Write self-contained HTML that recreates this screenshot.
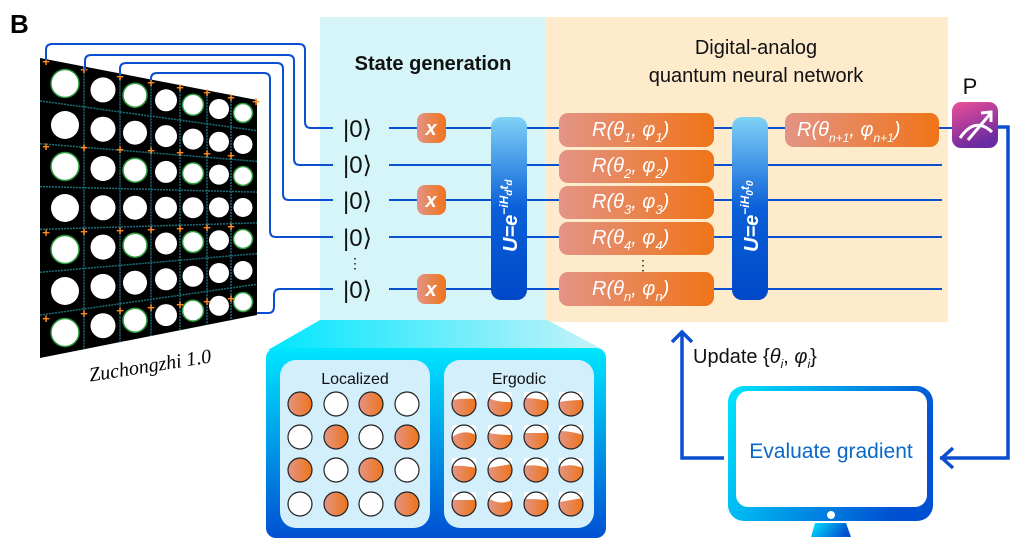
<!DOCTYPE html>
<html><head><meta charset="utf-8"><style>
html,body{margin:0;padding:0;background:#fff;width:1030px;height:554px;overflow:hidden}
svg{display:block}
text{font-family:"Liberation Sans",sans-serif}
text.serif{font-family:"Liberation Serif",serif}
</style></head><body>
<svg width="1030" height="554" viewBox="0 0 1030 554" xmlns="http://www.w3.org/2000/svg">
<defs>
<linearGradient id="og" x1="0" x2="1" y1="0" y2="0"><stop offset="0" stop-color="#e39486"/><stop offset="1" stop-color="#ef7418"/></linearGradient>
<linearGradient id="ub" x1="0" x2="0" y1="0" y2="1"><stop offset="0" stop-color="#80d2f5"/><stop offset="0.5" stop-color="#0a5fd8"/><stop offset="1" stop-color="#0048c8"/></linearGradient>
<linearGradient id="pk" x1="0" x2="0.4" y1="0" y2="1"><stop offset="0" stop-color="#ef4f97"/><stop offset="1" stop-color="#6a2aa0"/></linearGradient>
<linearGradient id="bp" x1="0" x2="0" y1="0" y2="1"><stop offset="0" stop-color="#00e6ff"/><stop offset="1" stop-color="#0050d2"/></linearGradient>
<linearGradient id="bt" x1="0" x2="1" y1="0" y2="0"><stop offset="0" stop-color="#00e6ff"/><stop offset="1" stop-color="#c8f3f8"/></linearGradient>
<linearGradient id="mon" x1="0" x2="1" y1="0" y2="0.3"><stop offset="0" stop-color="#00e6ff"/><stop offset="1" stop-color="#0050d2"/></linearGradient>
</defs>
<text x="10" y="33" font-size="26" font-weight="bold">B</text>

<rect x="320" y="17" width="226" height="305" fill="#d6f5f8"/>
<rect x="546" y="17" width="402" height="305" fill="#fdebcc"/>
<text x="433" y="70" font-size="20" text-anchor="middle" font-weight="bold" fill="#111">State generation</text>
<text x="756" y="54" font-size="20" text-anchor="middle" fill="#111">Digital-analog</text>
<text x="756" y="82" font-size="20" text-anchor="middle" fill="#111">quantum neural network</text>

<polygon points="40,58 257,100 257,315 40,358" fill="#000"/>
<g stroke="#1c6e7a" stroke-width="1.5" stroke-dasharray="2 1">
<line x1="40" y1="100.9" x2="257" y2="130.7"/><line x1="40" y1="143.7" x2="257" y2="161.4"/>
<line x1="40" y1="186.6" x2="257" y2="192.1"/><line x1="40" y1="229.4" x2="257" y2="222.9"/>
<line x1="40" y1="272.3" x2="257" y2="253.6"/><line x1="40" y1="315.1" x2="257" y2="284.3"/>
<line x1="84" y1="66.5" x2="84" y2="349.3"/><line x1="120" y1="73.5" x2="120" y2="342.2"/>
<line x1="151" y1="79.5" x2="151" y2="336"/><line x1="180" y1="85.1" x2="180" y2="330.3"/>
<line x1="207" y1="90.3" x2="207" y2="324.9"/><line x1="231" y1="95" x2="231" y2="320.2"/>
</g>
<g fill="#fff" stroke="#2a9a3a" stroke-width="0">
<circle cx="65" cy="83.5" r="14" stroke-width="1.5"/><circle cx="65" cy="125" r="14"/><circle cx="65" cy="166.5" r="14" stroke-width="1.5"/><circle cx="65" cy="208" r="14"/><circle cx="65" cy="249.5" r="14" stroke-width="1.5"/><circle cx="65" cy="291" r="14"/><circle cx="65" cy="332.5" r="14" stroke-width="1.5"/>
<circle cx="103" cy="89.9" r="12.5"/><circle cx="103" cy="129.2" r="12.5"/><circle cx="103" cy="168.5" r="12.5"/><circle cx="103" cy="207.8" r="12.5"/><circle cx="103" cy="247.1" r="12.5"/><circle cx="103" cy="286.4" r="12.5"/><circle cx="103" cy="325.7" r="12.5"/>
<circle cx="135" cy="95.2" r="12" stroke-width="1.5"/><circle cx="135" cy="132.7" r="12"/><circle cx="135" cy="170.2" r="12" stroke-width="1.5"/><circle cx="135" cy="207.7" r="12"/><circle cx="135" cy="245.2" r="12" stroke-width="1.5"/><circle cx="135" cy="282.7" r="12"/><circle cx="135" cy="320.2" r="12" stroke-width="1.5"/>
<circle cx="166" cy="100.3" r="11"/><circle cx="166" cy="136.1" r="11"/><circle cx="166" cy="171.9" r="11"/><circle cx="166" cy="207.7" r="11"/><circle cx="166" cy="243.5" r="11"/><circle cx="166" cy="279.3" r="11"/><circle cx="166" cy="315.1" r="11"/>
<circle cx="193" cy="104.8" r="10.5" stroke-width="1.5"/><circle cx="193" cy="139.1" r="10.5"/><circle cx="193" cy="173.4" r="10.5" stroke-width="1.5"/><circle cx="193" cy="207.7" r="10.5"/><circle cx="193" cy="242" r="10.5" stroke-width="1.5"/><circle cx="193" cy="276.3" r="10.5"/><circle cx="193" cy="310.6" r="10.5" stroke-width="1.5"/>
<circle cx="219" cy="109" r="10"/><circle cx="219" cy="141.8" r="10"/><circle cx="219" cy="174.6" r="10"/><circle cx="219" cy="207.4" r="10"/><circle cx="219" cy="240.2" r="10"/><circle cx="219" cy="273" r="10"/><circle cx="219" cy="305.8" r="10"/>
<circle cx="243" cy="113" r="9.5" stroke-width="1.5"/><circle cx="243" cy="144.5" r="9.5"/><circle cx="243" cy="176" r="9.5" stroke-width="1.5"/><circle cx="243" cy="207.5" r="9.5"/><circle cx="243" cy="239" r="9.5" stroke-width="1.5"/><circle cx="243" cy="270.5" r="9.5"/><circle cx="243" cy="302" r="9.5" stroke-width="1.5"/>
</g>
<g fill="#ff8a20" font-size="13" font-weight="bold" text-anchor="middle">
<text x="46" y="66">+</text><text x="84" y="74">+</text><text x="120" y="81">+</text><text x="151" y="87">+</text><text x="180" y="92">+</text><text x="207" y="97">+</text><text x="231" y="102">+</text><text x="256" y="106">+</text>
<text x="46" y="151">+</text><text x="84" y="152">+</text><text x="120" y="154">+</text><text x="151" y="155">+</text><text x="180" y="157">+</text><text x="207" y="158">+</text><text x="231" y="160">+</text>
<text x="46" y="237">+</text><text x="84" y="236">+</text><text x="120" y="235">+</text><text x="151" y="234">+</text><text x="180" y="233">+</text><text x="207" y="232">+</text><text x="231" y="231">+</text>
<text x="46" y="323">+</text><text x="84" y="318">+</text><text x="120" y="315">+</text><text x="151" y="312">+</text><text x="180" y="309">+</text><text x="207" y="306">+</text><text x="231" y="303">+</text>
</g>
<text class="serif" x="150" y="372" font-size="20" font-style="italic" text-anchor="middle" transform="rotate(-9 150 365)">Zuchongzhi 1.0</text>

<g fill="none" stroke="#0a4fd0" stroke-width="2">
<path d="M46,60 V50 Q46,44 52,44 H299 Q305,44 305,50 V122 Q305,128 311,128 H333"/>
<path d="M85,70 V61 Q85,55 91,55 H288 Q294,55 294,61 V159 Q294,165 300,165 H333"/>
<path d="M120,76 V69 Q120,63 126,63 H277 Q283,63 283,69 V194 Q283,200 289,200 H333"/>
<path d="M151,80 V79 Q151,73 157,73 H264 Q270,73 270,79 V231 Q270,237 276,237 H333"/>
<path d="M257,313 H268 Q274,313 274,307 V295 Q274,289 280,289 H333"/>
</g>

<g font-size="24" fill="#111">
<text x="343" y="137">|0⟩</text><text x="343" y="173">|0⟩</text><text x="343" y="209">|0⟩</text><text x="343" y="246">|0⟩</text><text x="343" y="298">|0⟩</text>
</g>
<text x="355" y="268" font-size="14" text-anchor="middle" fill="#111">⋮</text>

<g stroke="#0a4fd0" stroke-width="2">
<line x1="389" y1="128" x2="952" y2="128"/>
<line x1="389" y1="165" x2="942" y2="165"/>
<line x1="389" y1="200" x2="942" y2="200"/>
<line x1="389" y1="237" x2="942" y2="237"/>
<line x1="389" y1="289" x2="942" y2="289"/>
</g>
<rect x="417" y="113" width="29" height="30" rx="8" fill="url(#og)"/>
<rect x="417" y="185" width="29" height="30" rx="8" fill="url(#og)"/>
<rect x="417" y="274" width="29" height="30" rx="8" fill="url(#og)"/>
<g fill="#fff" font-size="20" font-weight="bold" font-style="italic" text-anchor="middle">
<text x="431" y="135">x</text><text x="431" y="207">x</text><text x="431" y="296">x</text>
</g>
<rect x="491" y="117" width="36" height="183" rx="10" fill="url(#ub)"/>
<rect x="732" y="117" width="36" height="183" rx="10" fill="url(#ub)"/>
<text transform="translate(517 252) rotate(-90)" fill="#fff" font-size="20" font-weight="bold" font-style="italic">U=e<tspan font-size="12" dy="-9">−iH</tspan><tspan font-size="10" dy="4">d</tspan><tspan font-size="12" dy="-4">t</tspan><tspan font-size="10" dy="4">d</tspan></text>
<text transform="translate(758 252) rotate(-90)" fill="#fff" font-size="20" font-weight="bold" font-style="italic">U=e<tspan font-size="12" dy="-9">−iH</tspan><tspan font-size="10" dy="4">0</tspan><tspan font-size="12" dy="-4">t</tspan><tspan font-size="10" dy="4">0</tspan></text>
<g fill="url(#og)">
<rect x="559" y="113" width="155" height="34" rx="9"/>
<rect x="559" y="150" width="155" height="33" rx="9"/>
<rect x="559" y="186" width="155" height="33" rx="9"/>
<rect x="559" y="222" width="155" height="33" rx="9"/>
<rect x="559" y="272" width="155" height="34" rx="9"/>
<rect x="785" y="113" width="154" height="34" rx="9"/>
</g>
<g fill="#fff" font-size="20" font-style="italic">
<text x="592" y="136">R(θ<tspan font-size="13" dy="6">1</tspan><tspan dy="-6">, φ</tspan><tspan font-size="13" dy="6">1</tspan><tspan dy="-6">)</tspan></text>
<text x="592" y="172">R(θ<tspan font-size="13" dy="6">2</tspan><tspan dy="-6">, φ</tspan><tspan font-size="13" dy="6">2</tspan><tspan dy="-6">)</tspan></text>
<text x="592" y="208">R(θ<tspan font-size="13" dy="6">3</tspan><tspan dy="-6">, φ</tspan><tspan font-size="13" dy="6">3</tspan><tspan dy="-6">)</tspan></text>
<text x="592" y="244">R(θ<tspan font-size="13" dy="6">4</tspan><tspan dy="-6">, φ</tspan><tspan font-size="13" dy="6">4</tspan><tspan dy="-6">)</tspan></text>
<text x="592" y="295">R(θ<tspan font-size="13" dy="6">n</tspan><tspan dy="-6">, φ</tspan><tspan font-size="13" dy="6">n</tspan><tspan dy="-6">)</tspan></text>
<text x="797" y="136">R(θ<tspan font-size="12" dy="6">n+1</tspan><tspan dy="-6">, φ</tspan><tspan font-size="12" dy="6">n+1</tspan><tspan dy="-6">)</tspan></text>
</g>
<text x="643" y="270" font-size="14" text-anchor="middle" fill="#111">⋮</text>

<text x="970" y="94" font-size="22" text-anchor="middle" fill="#111">P</text>
<rect x="952" y="102" width="46" height="46" rx="9" fill="url(#pk)"/>
<path d="M960,138 Q975,116 992,132" fill="none" stroke="#fff" stroke-width="3"/>
<path d="M968,140 L990,114 M981,113 L991,112 L991,122" fill="none" stroke="#fff" stroke-width="3"/>
<g fill="none" stroke="#0a4fd0" stroke-width="3.5">
<path d="M998,127 H1008 V458 H940"/>
<path d="M953,448 L942,458 L953,468"/>
<path d="M724,458 H682 V331"/>
<path d="M672,342 L682,332 L692,342"/>
</g>
<text x="693" y="363" font-size="20" fill="#111">Update {<tspan font-style="italic">θ</tspan><tspan font-size="12" dy="5" font-style="italic">i</tspan><tspan dy="-5">, </tspan><tspan font-style="italic">φ</tspan><tspan font-size="12" dy="5" font-style="italic">i</tspan><tspan dy="-5">}</tspan></text>

<rect x="728" y="386" width="205" height="135" rx="16" fill="url(#mon)"/>
<rect x="736" y="391" width="191" height="116" rx="12" fill="#fff"/>
<circle cx="831" cy="515" r="4" fill="#fff"/>
<polygon points="815,523 846,523 851,537 811,537" fill="url(#mon)"/>
<text x="831" y="458" font-size="21" text-anchor="middle" fill="#0a68c8">Evaluate gradient</text>

<polygon points="320,320 547,320 604,350 268,350" fill="url(#bt)"/>
<rect x="266" y="348" width="340" height="190" rx="10" fill="url(#bp)"/>
<rect x="280" y="360" width="150" height="168" rx="16" fill="#d3effc"/>
<rect x="444" y="360" width="150" height="168" rx="16" fill="#d3effc"/>
<text x="355" y="384" font-size="16" text-anchor="middle" fill="#111">Localized</text>
<text x="519" y="384" font-size="16" text-anchor="middle" fill="#111">Ergodic</text>
<g stroke="#222" stroke-width="1.2">
<circle cx="300" cy="404" r="12" fill="url(#og)"/><circle cx="336" cy="404" r="12" fill="#fff"/><circle cx="371" cy="404" r="12" fill="url(#og)"/><circle cx="407" cy="404" r="12" fill="#fff"/>
<circle cx="300" cy="437" r="12" fill="#fff"/><circle cx="336" cy="437" r="12" fill="url(#og)"/><circle cx="371" cy="437" r="12" fill="#fff"/><circle cx="407" cy="437" r="12" fill="url(#og)"/>
<circle cx="300" cy="470" r="12" fill="url(#og)"/><circle cx="336" cy="470" r="12" fill="#fff"/><circle cx="371" cy="470" r="12" fill="url(#og)"/><circle cx="407" cy="470" r="12" fill="#fff"/>
<circle cx="300" cy="504" r="12" fill="#fff"/><circle cx="336" cy="504" r="12" fill="url(#og)"/><circle cx="371" cy="504" r="12" fill="#fff"/><circle cx="407" cy="504" r="12" fill="url(#og)"/>
</g>
<g>
<g transform="translate(464 404)"><circle r="12" fill="url(#og)"/><path d="M-12,-12 H12 V-5 Q0,-6 -12,-4 Z" fill="#fff"/></g>
<g transform="translate(500 404)"><circle r="12" fill="url(#og)"/><path d="M-12,-12 H12 V-2 Q0,-1 -12,-6 Z" fill="#fff"/></g>
<g transform="translate(536 404)"><circle r="12" fill="url(#og)"/><path d="M-12,-12 H12 V-3 Q0,-6 -12,-6 Z" fill="#fff"/></g>
<g transform="translate(571 404)"><circle r="12" fill="url(#og)"/><path d="M-12,-12 H12 V-4 Q0,-4 -12,-2 Z" fill="#fff"/></g>
<g transform="translate(464 437)"><circle r="12" fill="url(#og)"/><path d="M-12,-12 H12 V-2 Q0,-8 -12,0 Z" fill="#fff"/></g>
<g transform="translate(500 437)"><circle r="12" fill="url(#og)"/><path d="M-12,-12 H12 V-2 Q0,-2 -12,-4 Z" fill="#fff"/></g>
<g transform="translate(536 437)"><circle r="12" fill="url(#og)"/><path d="M-12,-12 H12 V-4 Q0,-4 -12,-4 Z" fill="#fff"/></g>
<g transform="translate(571 437)"><circle r="12" fill="url(#og)"/><path d="M-12,-12 H12 V-2 Q0,-6 -12,-6 Z" fill="#fff"/></g>
<g transform="translate(464 470)"><circle r="12" fill="url(#og)"/><path d="M-12,-12 H12 V-2 Q0,-5 -12,-4 Z" fill="#fff"/></g>
<g transform="translate(500 470)"><circle r="12" fill="url(#og)"/><path d="M-12,-12 H12 V-6 Q0,-4 -12,-2 Z" fill="#fff"/></g>
<g transform="translate(536 470)"><circle r="12" fill="url(#og)"/><path d="M-12,-12 H12 V-2 Q0,-6 -12,-4 Z" fill="#fff"/></g>
<g transform="translate(571 470)"><circle r="12" fill="url(#og)"/><path d="M-12,-12 H12 V-2 Q0,-7 -12,-3 Z" fill="#fff"/></g>
<g transform="translate(464 504)"><circle r="12" fill="url(#og)"/><path d="M-12,-12 H12 V-4 Q0,-4 -12,-4 Z" fill="#fff"/></g>
<g transform="translate(500 504)"><circle r="12" fill="url(#og)"/><path d="M-12,-12 H12 V-4 Q0,2 -12,-6 Z" fill="#fff"/></g>
<g transform="translate(536 504)"><circle r="12" fill="url(#og)"/><path d="M-12,-12 H12 V-4 Q0,-5 -12,-5 Z" fill="#fff"/></g>
<g transform="translate(571 504)"><circle r="12" fill="url(#og)"/><path d="M-12,-12 H12 V-6 Q0,-4 -12,-2 Z" fill="#fff"/></g>
</g>
<g fill="none" stroke="#222" stroke-width="1.2">
<circle cx="464" cy="404" r="12"/><circle cx="500" cy="404" r="12"/><circle cx="536" cy="404" r="12"/><circle cx="571" cy="404" r="12"/>
<circle cx="464" cy="437" r="12"/><circle cx="500" cy="437" r="12"/><circle cx="536" cy="437" r="12"/><circle cx="571" cy="437" r="12"/>
<circle cx="464" cy="470" r="12"/><circle cx="500" cy="470" r="12"/><circle cx="536" cy="470" r="12"/><circle cx="571" cy="470" r="12"/>
<circle cx="464" cy="504" r="12"/><circle cx="500" cy="504" r="12"/><circle cx="536" cy="504" r="12"/><circle cx="571" cy="504" r="12"/>
</g>
</svg>
</body></html>
